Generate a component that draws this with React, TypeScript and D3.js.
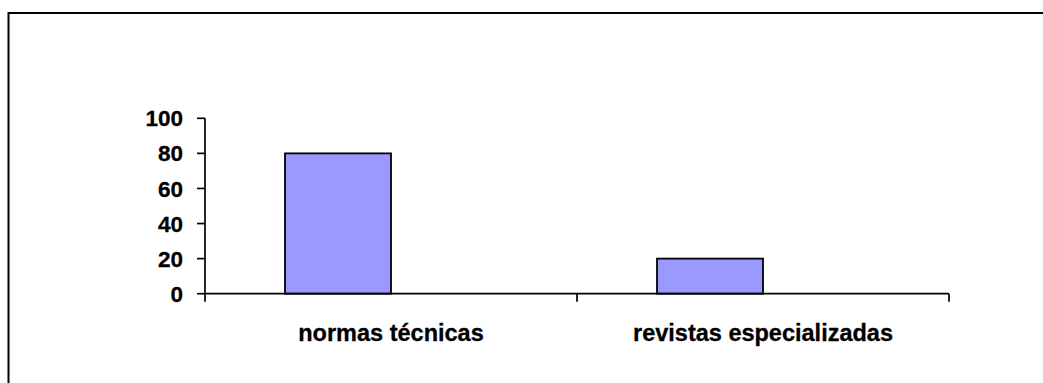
import React from "react";
import * as d3 from "d3";

const categories = ["normas técnicas", "revistas especializadas"];
const seriesNames = ["Serie1", "Serie2"];
const values = [80, 20];
const yTicks = [0, 20, 40, 60, 80, 100];

const W = 1043;
const H = 383;
const FONT = "'Liberation Sans', Arial, sans-serif";

export default function App() {
  const x0 = 205;
  const x1 = 949;
  const yBottom = 293.7;
  const yTop = 118.3;

  const x = d3.scaleBand<string>().domain(categories).range([x0, x1]).paddingInner(0).paddingOuter(0);
  const sub = d3
    .scaleBand<string>()
    .domain(seriesNames)
    .range([0, x.bandwidth()])
    .paddingInner(0)
    .paddingOuter(0.755);
  const y = d3.scaleLinear().domain([0, 100]).range([yBottom, yTop]);

  const catTicks = [x0, ...categories.map((c) => (x(c) as number) + x.bandwidth())];

  return (
    <svg
      width={W}
      height={H}
      style={{ position: "absolute", left: 0, top: 0, background: "#fff" }}
    >
      <rect x={8.5} y={13} width={1200} height={600} fill="#fff" stroke="#000" strokeWidth={2} />

      {values.map((v, i) => (
        <rect
          key={categories[i]}
          x={(x(categories[i]) as number) + (sub(seriesNames[0]) as number)}
          y={y(v)}
          width={sub.bandwidth()}
          height={y(0) - y(v)}
          fill="#9999FF"
          stroke="#000"
          strokeWidth={1.8}
        />
      ))}

      {/* y axis */}
      <line x1={x0} x2={x0} y1={yTop} y2={yBottom} stroke="#000" strokeWidth={1.7} />
      {yTicks.map((t) => (
        <g key={t}>
          <line x1={x0 - 8} x2={x0} y1={y(t)} y2={y(t)} stroke="#000" strokeWidth={1.7} />
          <text
            x={183}
            y={y(t)}
            dy="0.36em"
            textAnchor="end"
            fontFamily={FONT}
            fontWeight="bold"
            fontSize={22.5}
            fill="#000"
            stroke="#000"
            strokeWidth={0.3}
          >
            {t}
          </text>
        </g>
      ))}

      {/* x axis */}
      <line x1={x0} x2={x1} y1={yBottom} y2={yBottom} stroke="#000" strokeWidth={1.7} />
      {catTicks.map((tx, i) => (
        <line key={i} x1={tx} x2={tx} y1={yBottom} y2={yBottom + 8} stroke="#000" strokeWidth={1.7} />
      ))}
      {categories.map((c) => (
        <text
          key={c}
          x={(x(c) as number) + x.bandwidth() / 2}
          y={340.5}
          textAnchor="middle"
          fontFamily={FONT}
          fontWeight="bold"
          fontSize={23.5}
          fill="#000"
          stroke="#000"
          strokeWidth={0.3}
        >
          {c}
        </text>
      ))}
    </svg>
  );
}
